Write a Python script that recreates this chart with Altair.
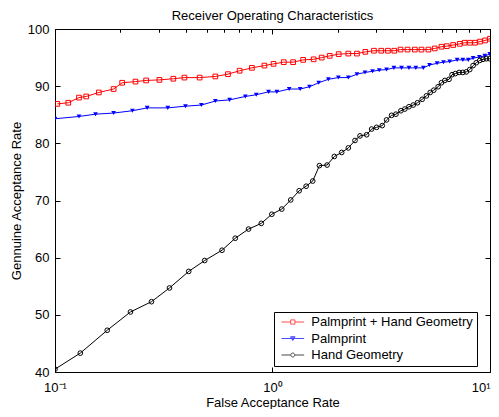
import altair as alt
import pandas as pd

# ---- data ----
series_names = ["Palmprint + Hand Geometry", "Palmprint", "Hand Geometry"]
series_colors = ["#ff0000", "#0000ff", "#000000"]

red_x = [0.1025, 0.1151, 0.1289, 0.1392, 0.159, 0.186, 0.2036, 0.2344, 0.2624, 0.302,
         0.350, 0.3936, 0.4624, 0.546, 0.624, 0.706, 0.804, 0.918, 1.011, 1.127,
         1.244, 1.383, 1.546, 1.683, 1.832, 2.015, 2.232, 2.445, 2.671, 2.928,
         3.162, 3.394, 3.63, 3.879, 4.177, 4.512, 4.84, 5.21, 5.57, 5.98,
         6.33, 6.77, 7.26, 7.65, 8.09, 8.53, 9.0, 9.49, 10.0]
red_y = [86.9, 87.1, 88.0, 88.2, 88.9, 89.5, 90.6, 90.8, 91.0, 91.1,
         91.3, 91.5, 91.5, 91.7, 92.1, 92.7, 93.2, 93.6, 93.9, 94.2,
         94.2, 94.6, 94.7, 95.0, 95.3, 95.6, 95.7, 95.7, 96.0, 96.2,
         96.2, 96.2, 96.2, 96.4, 96.4, 96.4, 96.4, 96.4, 96.6, 96.9,
         97.0, 97.2, 97.4, 97.6, 97.6, 97.6, 97.8, 98.0, 98.3]

blue_x = [0.1, 0.1289, 0.1536, 0.186, 0.227, 0.2653, 0.330, 0.398, 0.471, 0.546,
          0.635, 0.750, 0.842, 0.959, 1.047, 1.193, 1.34, 1.479, 1.631, 1.807,
          2.008, 2.232, 2.445, 2.662, 2.884, 3.096, 3.345, 3.616, 3.92, 4.24,
          4.56, 4.94, 5.27, 5.71, 6.11, 6.53, 7.06, 7.5, 7.95, 8.36,
          8.93, 9.46, 9.97]
blue_y = [84.3, 84.7, 85.1, 85.3, 85.7, 86.2, 86.2, 86.5, 86.7, 87.4,
          87.6, 88.2, 88.5, 89.0, 89.0, 89.5, 89.5, 89.9, 90.6, 91.2,
          91.5, 91.5, 92.1, 92.4, 92.6, 92.8, 92.9, 93.2, 93.2, 93.2,
          93.2, 93.2, 93.7, 94.0, 94.2, 94.3, 94.6, 94.6, 94.6, 94.9,
          95.1, 95.3, 95.6]

black_x = [0.1, 0.1307, 0.1738, 0.2223, 0.2777, 0.336, 0.412, 0.4877, 0.586, 0.674,
           0.776, 0.888, 0.993, 1.103, 1.213, 1.326, 1.428, 1.531, 1.643, 1.782,
           1.924, 2.08, 2.232, 2.395, 2.526, 2.709, 2.856, 3.01, 3.196, 3.345,
           3.527, 3.693, 3.893, 4.06, 4.24, 4.436, 4.64, 4.876, 5.1, 5.31,
           5.515, 5.775, 5.98, 6.2, 6.48, 6.69, 6.93, 7.21, 7.5, 7.78,
           8.07, 8.36, 8.65, 8.97, 9.29, 9.62, 9.97]
black_y = [40.5, 43.3, 47.3, 50.5, 52.3, 54.7, 57.6, 59.5, 61.3, 63.4,
           65.0, 66.0, 67.6, 68.5, 70.1, 71.7, 72.5, 73.4, 76.1, 76.2,
           77.7, 78.4, 79.2, 80.5, 81.3, 81.5, 82.5, 82.8, 83.1, 84.1,
           84.9, 85.1, 85.7, 86.0, 86.4, 86.7, 87.1, 87.7, 88.3, 88.9,
           89.3, 89.9, 90.6, 91.0, 91.2, 92.0, 92.2, 92.4, 92.4, 92.5,
           92.9, 93.6, 94.1, 94.5, 94.7, 94.8, 94.8]

x_major_ticks = [0.1, 1, 10]
x_minor_ticks = [0.2, 0.3, 0.4, 0.5, 0.6, 0.7, 0.8, 0.9,
                 2, 3, 4, 5, 6, 7, 8, 9]
x_major_labels = ["10\u207b\u00b9", "10\u2070", "10\u00b9"]
y_tick_values = [40, 50, 60, 70, 80, 90, 100]

title_text = "Receiver Operating Characteristics"
x_title = "False Acceptance Rate"
y_title = "Gennuine Acceptance Rate"

rows = []
for name, xs, ys in zip(series_names, [red_x, blue_x, black_x], [red_y, blue_y, black_y]):
    for a, b in zip(xs, ys):
        rows.append({"far": a, "gar": b, "series": name})
df = pd.DataFrame(rows)

FONT = "Liberation Sans"
FS = 13
MAJ = 5
MIN = 3

x_scale = alt.Scale(type="log", domain=[0.1, 10], nice=False)
y_scale = alt.Scale(domain=[40, 100], nice=False, zero=False)
color_scale = alt.Scale(domain=series_names, range=series_colors)

txt = dict(labelFont=FONT, labelFontSize=FS, labelColor="black",
           titleFont=FONT, titleFontSize=FS, titleFontWeight="normal",
           titleColor="black")
plain = dict(grid=False, domain=False, tickColor="black", tickWidth=1)

label_expr = " : ".join(
    f"datum.value === {v} ? '{t}'" for v, t in zip(x_major_ticks, x_major_labels)
) + " : ''"

bottom_major = alt.Axis(values=x_major_ticks, labelExpr=label_expr, tickSize=MAJ,
                        offset=-MAJ, labelPadding=9, labelFlush=False,
                        labelAlign={"condition": {"test": "datum.value === 10", "value": "right"},
                                    "value": "center"},
                        labelOverlap=False, titlePadding=2, **plain, **txt)
bottom_minor = alt.Axis(values=x_minor_ticks, labels=False, title=None,
                        tickSize=MIN, offset=-MIN, **plain)
top_major = alt.Axis(orient="top", values=x_major_ticks, labels=False, title=None,
                     tickSize=MAJ, offset=-MAJ, **plain)
top_minor = alt.Axis(orient="top", values=x_minor_ticks, labels=False, title=None,
                     tickSize=MIN, offset=-MIN, **plain)
left_axis = alt.Axis(values=y_tick_values, tickSize=MAJ, offset=-MAJ,
                     labelPadding=6, titlePadding=4, **plain, **txt)
right_axis = alt.Axis(orient="right", values=y_tick_values, labels=False, title=None,
                      tickSize=MAJ, offset=-MAJ, **plain)

# legend symbols: line segment with the series marker in the middle
legend_paths = [
    "M-2.27,0H-0.42M0.42,0H2.27M-0.42,-0.42H0.42V0.42H-0.42Z",
    "M-2.27,0H2.27M-0.45,-0.35L0.45,-0.35L0,0.4Z",
    "M-2.27,0H-0.4M0.4,0H2.27M-0.4,0A0.4,0.4,0,1,0,0.4,0A0.4,0.4,0,1,0,-0.4,0",
]
legend_fills = ["transparent", "#0000ff", "transparent"]

legend = alt.Legend(
    orient="none", legendX=219, legendY=283, title=None,
    padding=3.5, strokeColor="black", fillColor="white",
    symbolSize=100, symbolOffset=8.8, symbolStrokeWidth=1,
    labelOffset=12, labelFont=FONT, labelFontSize=FS, labelColor="black",
    labelLimit=400, rowPadding=2.5,
)

base = alt.Chart(df)

lines = base.mark_line(strokeWidth=1, clip=True).encode(
    x=alt.X("far:Q", scale=x_scale, axis=bottom_major, title=x_title),
    y=alt.Y("gar:Q", scale=y_scale, axis=left_axis, title=y_title),
    color=alt.Color("series:N", scale=color_scale, legend=None),
    order="far:Q",
)

def pts(name, shape, filled, xa, ya):
    return base.transform_filter(alt.datum.series == name).mark_point(
        shape=shape, filled=filled, size=22, strokeWidth=1, clip=True, opacity=1,
    ).encode(
        x=alt.X("far:Q", scale=x_scale, axis=xa),
        y=alt.Y("gar:Q", scale=y_scale, axis=ya),
        color=alt.Color("series:N", scale=color_scale, legend=None),
    )

red_pts = pts(series_names[0], "square", False, bottom_minor, right_axis)
blue_pts = pts(series_names[1], "triangle-down", True, top_major, None)
black_pts = pts(series_names[2], "circle", False, top_minor, None)

# legend-carrying layer: its own marks have size 0, so only the legend shows
legend_layer = base.mark_point(size=0, strokeWidth=1, clip=True).encode(
    x=alt.X("far:Q", scale=x_scale, axis=None),
    y=alt.Y("gar:Q", scale=y_scale, axis=None),
    stroke=alt.Stroke("series:N", scale=alt.Scale(domain=series_names, range=series_colors), legend=legend),
    shape=alt.Shape("series:N", scale=alt.Scale(domain=series_names, range=legend_paths), legend=legend),
    fill=alt.Fill("series:N", scale=alt.Scale(domain=series_names, range=legend_fills), legend=legend),
)

chart = alt.layer(legend_layer, lines, red_pts, blue_pts, black_pts).resolve_axis(
    x="independent", y="independent"
).properties(
    width=435, height=343,
    title=alt.Title(title_text, font=FONT, fontSize=FS, fontWeight="normal",
                    color="black", offset=0.5, anchor="middle"),
    autosize=alt.AutoSizeParams(type="none"),
    padding={"left": 47, "top": 21, "right": 1, "bottom": 37},
).configure_view(stroke="black", strokeWidth=1)

chart.save("out.html", embed_options={"renderer": "svg", "actions": False})
